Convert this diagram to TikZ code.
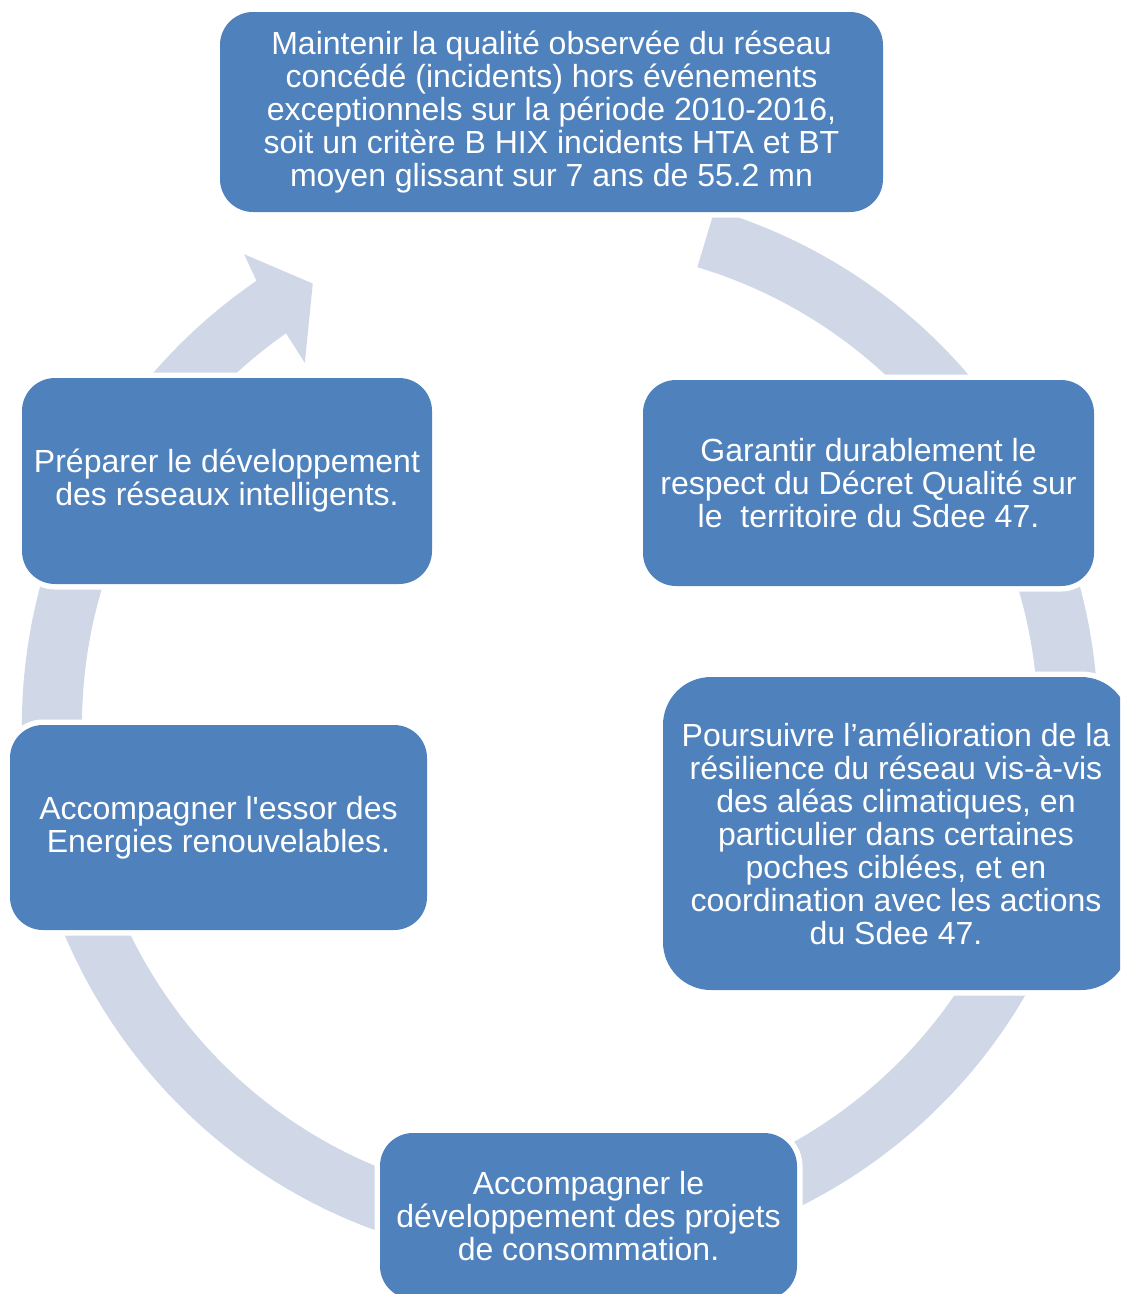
\documentclass[tikz,border=0pt]{standalone}
\usepackage{fontspec}
\newfontfamily\boxfont{Liberation Sans}
\definecolor{boxblue}{HTML}{4F81BD}
\definecolor{ringcol}{HTML}{D0D8E8}
\begin{document}
\begin{tikzpicture}[x=1pt,y=-1pt,
  goal/.style={fill=boxblue, rounded corners=33pt,
    preaction={draw=white, line width=11pt},
    text=white, font=\boxfont\fontsize{32}{33}\selectfont,
    align=center, inner sep=0pt},
  ringfill/.style={fill=ringcol}]
\useasboundingbox (0,0) rectangle (1120,1294);
\clip (0,0) rectangle (1120,1294);
% circular arrow
\begin{scope}[shift={(560,725)}, y=1pt]
\fill[ringfill] (73.3:538) arc[start angle=73.3, end angle=-235.65, radius=538]
  -- (123.86:567) -- (119.25:506) -- (125.17:443) -- (124.97:478)
  arc[start angle=124.97, end angle=433.3, radius=478] -- cycle;
\end{scope}
% boxes
\node[goal, minimum width=663pt, minimum height=200pt] (g1) at (551.5,112)
  {Maintenir la qualité observée du réseau\\concédé (incidents) hors événements\\exceptionnels sur la période 2010-2016,\\soit un critère B HIX incidents HTA et BT\\moyen glissant sur 7 ans de 55.2 mn};
\node[goal, minimum width=451pt, minimum height=206pt] (g2) at (868.5,483)
  {Garantir durablement le\\respect du Décret Qualité sur\\le\ \ territoire du Sdee 47.};
\node[goal, rounded corners=48pt, minimum width=466pt, minimum height=313pt] (g3) at (896,833.5)
  {Poursuivre l’amélioration de la\\résilience du réseau vis-à-vis\\des aléas climatiques, en\\particulier dans certaines\\poches ciblées, et en\\coordination avec les actions\\du Sdee 47.};
\node[goal, minimum width=417pt, minimum height=166pt] (g4) at (588.5,1216)
  {Accompagner le\\développement des projets\\de consommation.};
\node[goal, minimum width=417pt, minimum height=205pt] (g5) at (218.5,827.5)
  {Accompagner l'essor des\\Energies renouvelables.};
\node[goal, minimum width=410pt, minimum height=206pt] (g6) at (227,481)
  {Préparer le développement\\des réseaux intelligents.};
\end{tikzpicture}
\end{document}
